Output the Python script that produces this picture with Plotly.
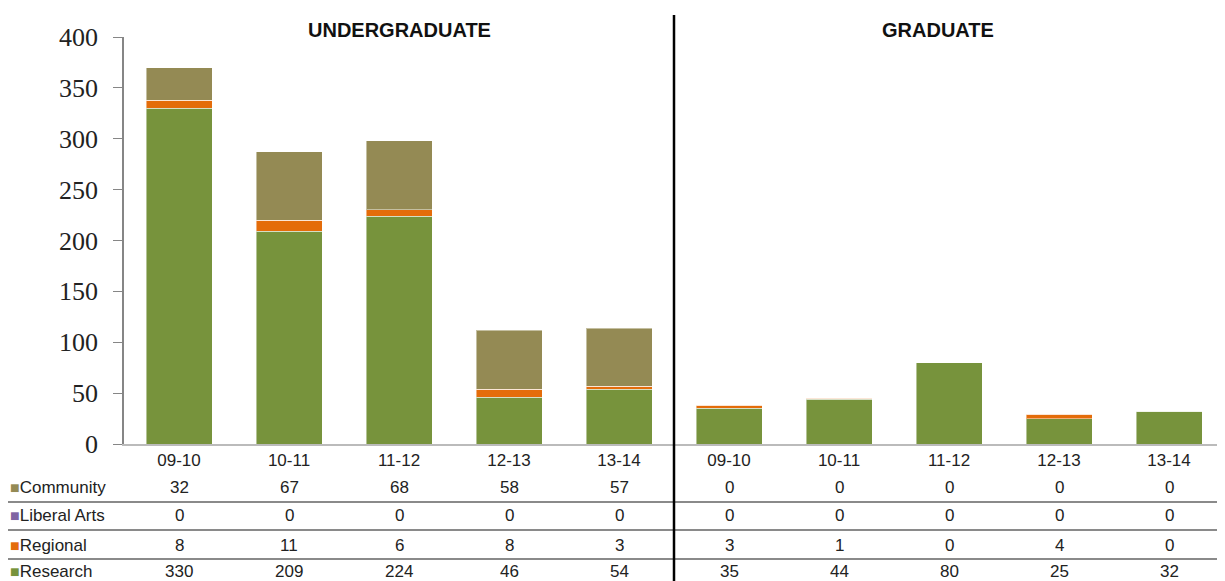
import plotly.graph_objects as go

categories = ["09-10", "10-11", "11-12", "12-13", "13-14",
              "09-10", "10-11", "11-12", "12-13", "13-14"]
groups = ["UNDERGRADUATE", "GRADUATE"]
research = [330, 209, 224, 46, 54, 35, 44, 80, 25, 32]
regional = [8, 11, 6, 8, 3, 3, 1, 0, 4, 0]
liberal_arts = [0, 0, 0, 0, 0, 0, 0, 0, 0, 0]
community = [32, 67, 68, 58, 57, 0, 0, 0, 0, 0]

series = [
    ("Research", research, "#77933C"),
    ("Regional", regional, "#E46C0A"),
    ("Liberal Arts", liberal_arts, "#8064A2"),
    ("Community", community, "#948A54"),
]
table_rows = ["Community", "Liberal Arts", "Regional", "Research"]

OFF = 8  # default page body margin
W, H = 1225 - OFF, 581 - OFF
L, R, T, B = 124 - OFF, 1, 37 - OFF, 137
plot_h = H - T - B
plot_w = W - L - R


def py(pix):
    # screen pixel -> paper y
    return (H + OFF - B - pix) / plot_h


def px(pix):
    return (pix - OFF - L) / plot_w


xs = list(range(len(categories)))
fig = go.Figure()
for name, vals, color in series:
    fig.add_trace(go.Bar(
        x=xs, y=vals, name=name, width=0.6,
        marker=dict(color=color, line=dict(color="rgba(255,255,255,0.45)", width=1)),
        showlegend=False,
    ))

sans = "Liberation Sans, Arial, sans-serif"
ann = []
ann.append(dict(x=2.0, y=py(30), xref="x", yref="paper", text="<b>UNDERGRADUATE</b>",
                xanchor="center", yanchor="middle",
                showarrow=False, font=dict(family=sans, size=20, color="#111")))
ann.append(dict(x=6.9, y=py(30), xref="x", yref="paper", text="<b>GRADUATE</b>",
                xanchor="center", yanchor="middle",
                showarrow=False, font=dict(family=sans, size=20, color="#111")))

color_map = {n: c for n, v, c in series}
val_map = {n: v for n, v, c in series}
row_y = [487, 516, 545, 571]
for rname, ypix in zip(table_rows, row_y):
    ann.append(dict(x=px(8), y=py(ypix), xref="paper", yref="paper",
                    xanchor="left", yanchor="middle",
                    text=f"<span style='color:{color_map[rname]};font-size:16px'>■</span>{rname}",
                    showarrow=False, font=dict(family=sans, size=17, color="#222")))
    for xi, v in zip(xs, val_map[rname]):
        ann.append(dict(x=xi, y=py(ypix), xref="x", yref="paper", text=str(v),
                        xanchor="center", yanchor="middle",
                        showarrow=False, font=dict(family=sans, size=17, color="#222")))

shapes = []
for ypix in [502, 530, 559]:
    shapes.append(dict(type="line", xref="paper", yref="paper", x0=px(5), x1=px(1230),
                       y0=py(ypix), y1=py(ypix), line=dict(color="#8a8a8a", width=2)))
shapes.append(dict(type="line", xref="x", yref="paper", x0=4.5, x1=4.5,
                   y0=py(15), y1=py(590), line=dict(color="#000", width=2.5)))

fig.update_layout(
    width=W, height=H,
    margin=dict(l=L, r=R, t=T, b=B),
    plot_bgcolor="white", paper_bgcolor="white",
    barmode="stack",
    annotations=ann, shapes=shapes,
    xaxis=dict(range=[-0.5, 9.5], tickvals=xs, ticktext=categories,
               showline=True, linecolor="#BBBBBB", linewidth=2, ticks="",
               showgrid=False, zeroline=False,
               tickfont=dict(family=sans, size=17, color="#222")),
    yaxis=dict(range=[0, 400], tickvals=[0, 50, 100, 150, 200, 250, 300, 350, 400],
               showline=True, linecolor="#868686", linewidth=1.5,
               ticks="outside", ticklen=9, tickcolor="#868686",
               ticklabelstandoff=10,
               showgrid=False, zeroline=False,
               tickfont=dict(family="Liberation Serif, Times New Roman, serif", size=26, color="#222")),
)

fig.write_html("out.html")
